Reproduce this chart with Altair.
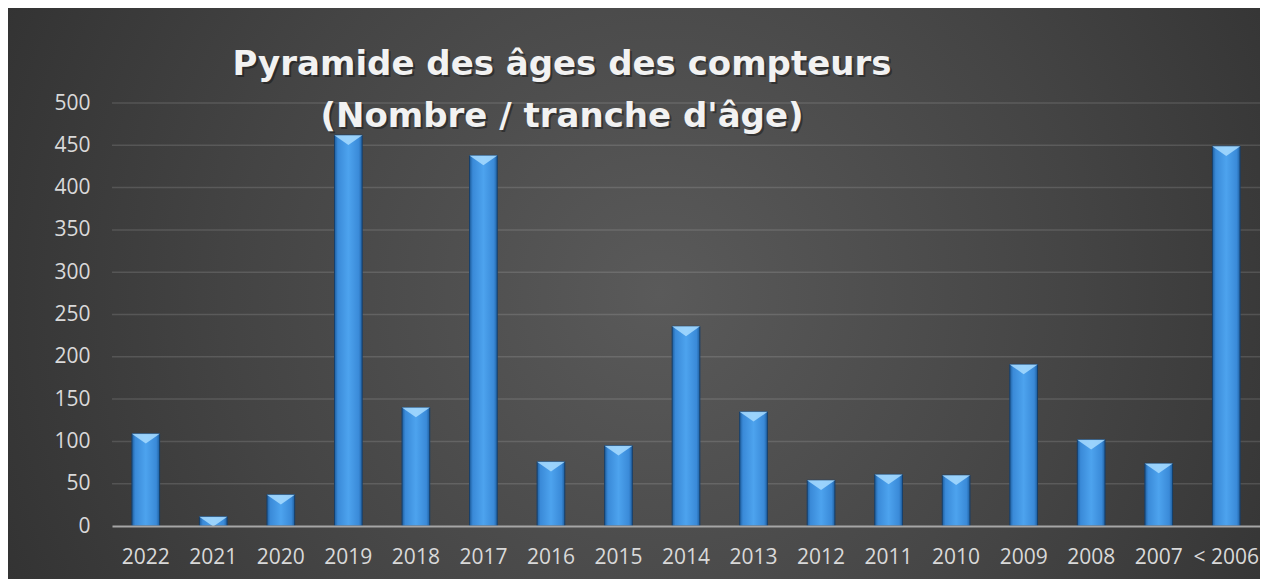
import altair as alt
import pandas as pd

categories = ["2022", "2021", "2020", "2019", "2018", "2017", "2016", "2015", "2014",
              "2013", "2012", "2011", "2010", "2009", "2008", "2007", "< 2006"]
values = [109, 11, 37, 462, 140, 438, 76, 95, 236, 135, 54, 61, 60, 191, 102, 74, 449]
title_lines = ["Pyramide des âges des compteurs", "(Nombre / tranche d'âge)"]
y_ticks = [0, 50, 100, 150, 200, 250, 300, 350, 400, 450, 500]

df = pd.DataFrame({"cat": categories, "val": values})
grid_df = pd.DataFrame({"val": y_ticks[1:]})

W, H = 1148, 423
PAD_L, PAD_T, PAD_R, PAD_B = 104, 95, 0, 53
FONT = "Open Sans"
TITLE_FONT = "DejaVu Sans"

bg_grad = {
    "gradient": "radial",
    "x1": 0.52, "y1": 0.5, "r1": 0.0,
    "x2": 0.52, "y2": 0.5, "r2": 0.75,
    "stops": [
        {"offset": 0.0, "color": "#5a5a5a"},
        {"offset": 0.45, "color": "#444444"},
        {"offset": 1.0, "color": "#262626"},
    ],
}

bar_grad = {
    "gradient": "linear",
    "x1": 0, "y1": 0, "x2": 1, "y2": 0,
    "stops": [
        {"offset": 0.0, "color": "#1f5f9f"},
        {"offset": 0.12, "color": "#3a8ad8"},
        {"offset": 0.5, "color": "#4da3ee"},
        {"offset": 0.88, "color": "#3a8ad8"},
        {"offset": 1.0, "color": "#1f5f9f"},
    ],
}

y_scale = alt.Scale(domain=[0, 500], nice=False)
y_axis = alt.Axis(values=y_ticks, labelColor="#d9d9d9", labelFont=FONT,
                  labelFontSize=21, labelPadding=22, ticks=False,
                  domain=False, grid=False, zindex=2)

background = alt.Chart(pd.DataFrame({"a": [0]})).mark_rect(
    fill=bg_grad
).encode(
    x=alt.value(-PAD_L), x2=alt.value(W + PAD_R),
    y=alt.value(-PAD_T), y2=alt.value(H + PAD_B),
)

grid = alt.Chart(grid_df).mark_rule(
    color="#ffffff", opacity=0.13, strokeWidth=1.5
).encode(
    y=alt.Y("val:Q", scale=y_scale, title=None, axis=y_axis),
    x=alt.value(0), x2=alt.value(W),
)

x_enc = alt.X("cat:N", sort=None, title=None,
              scale=alt.Scale(paddingInner=0.59, paddingOuter=0.295),
              axis=alt.Axis(labelAngle=0, labelColor="#d9d9d9", labelFont=FONT,
                            labelFontSize=21, labelPadding=20, ticks=False,
                            domainColor="#a6a6a6", domainWidth=2, grid=False,
                            zindex=2))
y_enc = alt.Y("val:Q", title=None, scale=y_scale, axis=y_axis)

bars = alt.Chart(df).mark_bar(
    fill=bar_grad, stroke="#163f6b", strokeWidth=1
).encode(x=x_enc, y=y_enc)

bevel = alt.Chart(df).mark_point(
    shape="M-1,0L1,0L0,0.7Z", size=784, filled=True, fill="#a8dcff",
    opacity=0.85, strokeWidth=0
).encode(x=alt.X("cat:N", sort=None), y=alt.Y("val:Q"))

title_df = pd.DataFrame({"t": ["\n".join(title_lines)]})
title_shadow = alt.Chart(title_df).mark_text(
    font=TITLE_FONT, fontSize=34, fontWeight="bold", color="#000000", opacity=0.35,
    align="center", baseline="alphabetic", lineBreak="\n", lineHeight=52
).encode(text="t:N", x=alt.value(452), y=alt.value(-26))

title = alt.Chart(title_df).mark_text(
    font=TITLE_FONT, fontSize=34, fontWeight="bold", color="#f2f2f2",
    align="center", baseline="alphabetic", lineBreak="\n", lineHeight=52
).encode(text="t:N", x=alt.value(450), y=alt.value(-28))

chart = alt.layer(background, grid, bars, bevel, title_shadow, title).properties(
    width=W, height=H,
    autosize=alt.AutoSizeParams(type="none"),
    padding={"left": PAD_L, "top": PAD_T, "right": PAD_R, "bottom": PAD_B},
    background="#2c2c2c",
).configure_view(stroke=None)

chart.save("out.html", embed_options={"renderer": "svg", "actions": False})
